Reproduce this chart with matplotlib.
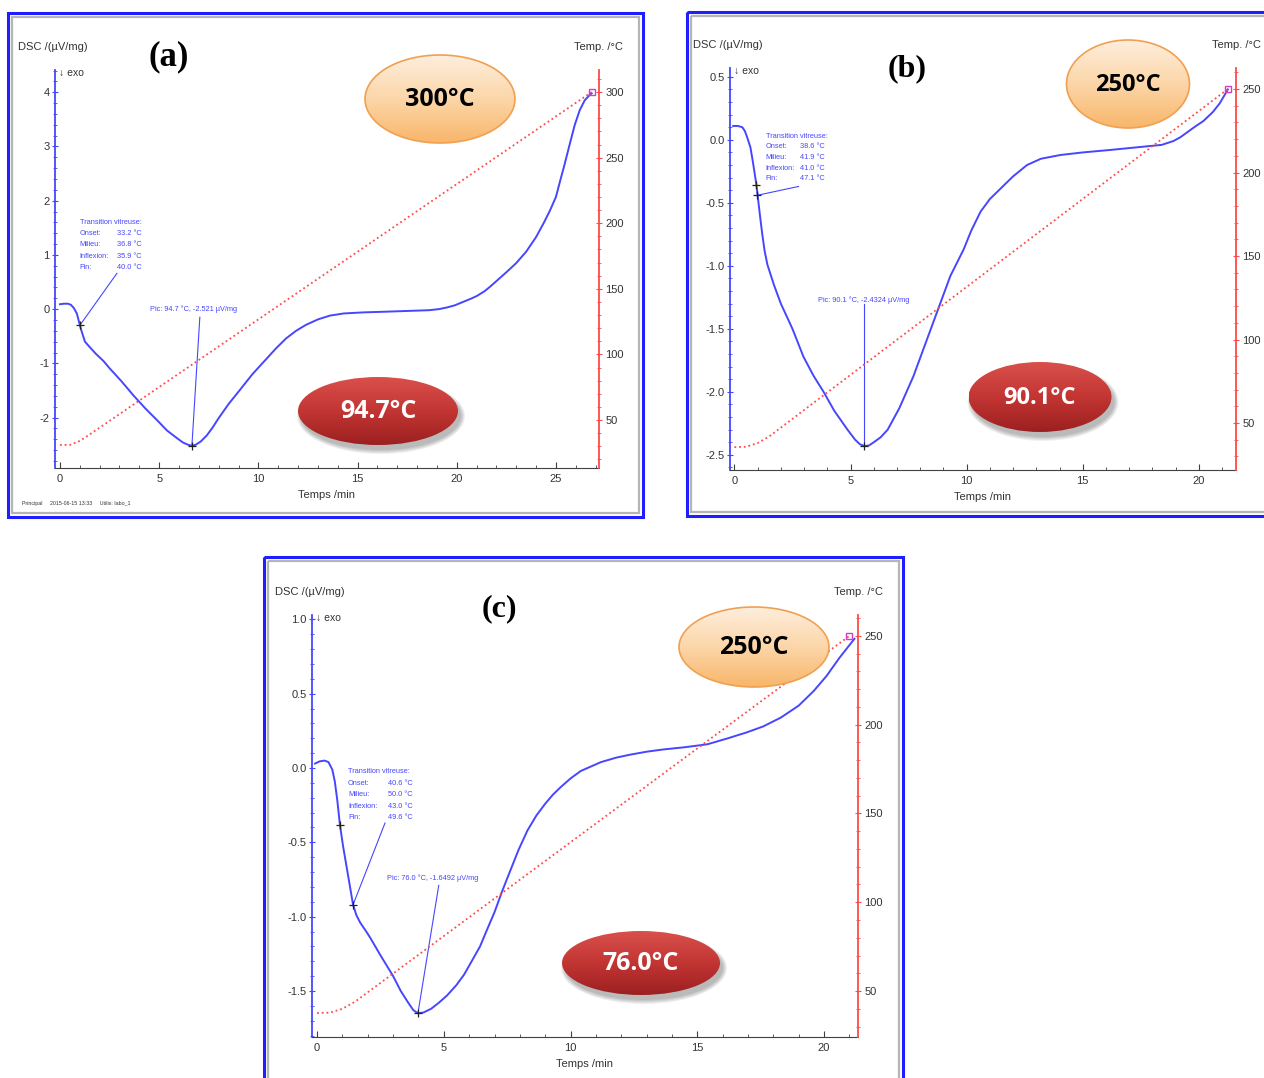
import numpy as np
import matplotlib.pyplot as plt
from matplotlib.patches import Ellipse, Rectangle
from matplotlib.ticker import MultipleLocator, FormatStrFormatter
from matplotlib.colors import to_rgb

plt.rcParams['font.family'] = ['Liberation Sans', 'DejaVu Sans']
plt.rcParams['axes.unicode_minus'] = False

W, H = 1264, 1078

# ---- values ----
# (a) heated up to 300 C
time_a = [0, 0.2, 0.4, 0.55, 0.7, 0.85, 1.0, 1.1, 1.26, 1.5, 1.8, 2.2, 2.5, 3.1, 3.7, 4.3,
          4.9, 5.4, 5.9, 6.2, 6.45, 6.65, 6.85, 7.1, 7.4, 7.7, 8.0, 8.5, 9.07, 9.7, 10.4,
          10.9, 11.4, 11.9, 12.4, 13.0, 13.6, 14.3, 15.3, 16.2, 17.0, 17.8, 18.6, 19.1,
          19.5, 19.9, 20.3, 20.7, 21.0, 21.4, 21.7, 22.1, 22.5, 23.0, 23.5, 24.0, 24.4,
          24.7, 25.0, 25.2, 25.4, 25.7, 25.95, 26.2, 26.45, 26.7, 26.8]
dsc_a = [0.09, 0.10, 0.10, 0.08, 0.02, -0.08, -0.29, -0.42, -0.60, -0.70, -0.82, -0.96,
         -1.09, -1.33, -1.59, -1.83, -2.05, -2.24, -2.38, -2.46, -2.50, -2.52, -2.50, -2.44,
         -2.33, -2.18, -2.01, -1.75, -1.49, -1.20, -0.92, -0.72, -0.54, -0.40, -0.29, -0.19,
         -0.12, -0.08, -0.06, -0.05, -0.04, -0.03, -0.02, 0.00, 0.03, 0.07, 0.13, 0.19,
         0.24, 0.33, 0.42, 0.55, 0.68, 0.85, 1.06, 1.33, 1.60, 1.82, 2.07, 2.35, 2.62,
         3.05, 3.40, 3.67, 3.85, 3.95, 3.98]
ttime_a = [0, 0.5, 1.0, 1.5, 26.8]
temp_a = [31, 31, 34, 39, 300]

# (b) heated up to 250 C
time_b = [-0.05, 0.15, 0.34, 0.45, 0.55, 0.69, 0.8, 0.95, 1.0, 1.1, 1.2, 1.3, 1.42, 1.7,
          2.0, 2.5, 2.97, 3.4, 3.84, 4.3, 4.87, 5.2, 5.4, 5.6, 5.8, 6.0, 6.3, 6.6, 7.1,
          7.7, 8.3, 8.88, 9.3, 9.87, 10.2, 10.6, 11.0, 11.5, 12.0, 12.6, 13.2, 14.05,
          15.0, 16.2, 17.3, 18.4, 18.9, 19.2, 19.5, 19.8, 20.2, 20.6, 20.9, 21.25]
dsc_b = [0.11, 0.11, 0.10, 0.07, 0.02, -0.06, -0.18, -0.36, -0.44, -0.60, -0.75, -0.88,
         -0.99, -1.15, -1.30, -1.50, -1.72, -1.87, -2.00, -2.15, -2.30, -2.38, -2.415,
         -2.43, -2.425, -2.40, -2.36, -2.30, -2.13, -1.88, -1.58, -1.29, -1.08, -0.87,
         -0.72, -0.57, -0.47, -0.38, -0.29, -0.20, -0.15, -0.12, -0.10, -0.08, -0.06,
         -0.04, -0.01, 0.02, 0.06, 0.10, 0.15, 0.22, 0.29, 0.40]
ttime_b = [0, 0.5, 1.0, 1.5, 21.25]
temp_b = [35.6, 35.8, 38, 42, 250]

# (c) heated up to 250 C
time_c = [-0.08, 0.1, 0.3, 0.45, 0.6, 0.7, 0.8, 0.9, 1.02, 1.15, 1.3, 1.42, 1.55, 1.7, 1.9,
          2.09, 2.5, 3.0, 3.3, 3.6, 3.8, 3.98, 4.2, 4.5, 4.8, 5.13, 5.5, 5.8, 6.1, 6.43,
          6.7, 7.0, 7.3, 7.6, 7.95, 8.3, 8.65, 9.0, 9.3, 9.6, 10.0, 10.4, 10.8, 11.2, 11.8,
          12.35, 13.0, 13.65, 14.5, 15.4, 16.2, 16.95, 17.6, 18.3, 19.0, 19.6, 20.1, 20.6,
          21.2]
dsc_c = [0.03, 0.045, 0.05, 0.04, -0.01, -0.09, -0.22, -0.38, -0.52, -0.65, -0.80, -0.92,
         -0.99, -1.04, -1.09, -1.14, -1.26, -1.40, -1.50, -1.58, -1.63, -1.65, -1.645,
         -1.62, -1.58, -1.53, -1.46, -1.39, -1.30, -1.20, -1.09, -0.97, -0.83, -0.70,
         -0.55, -0.42, -0.32, -0.24, -0.18, -0.13, -0.07, -0.02, 0.01, 0.04, 0.07, 0.09,
         0.11, 0.125, 0.14, 0.16, 0.20, 0.24, 0.28, 0.34, 0.42, 0.52, 0.62, 0.74, 0.87]
ttime_c = [0, 0.5, 1.0, 1.5, 21.0]
temp_c = [37.6, 37.8, 40, 44, 250]

tg_names = ['Onset:', 'Milieu:', 'Inflexion:', 'Fin:']
tg_a = ['33.2 °C', '36.8 °C', '35.9 °C', '40.0 °C']
tg_b = ['38.6 °C', '41.9 °C', '41.0 °C', '47.1 °C']
tg_c = ['40.6 °C', '50.0 °C', '43.0 °C', '49.6 °C']

peak_a = (6.65, -2.521)
peak_b = (5.6, -2.4324)
peak_c = (3.98, -1.6492)
pic_a = 'Pic: 94.7 °C, -2.521 µV/mg'
pic_b = 'Pic: 90.1 °C, -2.4324 µV/mg'
pic_c = 'Pic: 76.0 °C, -1.6492 µV/mg'

BLUE = '#4646ff'
RED = '#ff4a4a'
TXT = '#333333'

fig = plt.figure(figsize=(W / 100, H / 100), dpi=100)
fig.patch.set_facecolor('white')


def panel(box, xlim, ylim, tlim, ymaj, ymin, yfmt):
    l, t, r, b = box
    ax = fig.add_axes([l / W, 1 - b / H, (r - l) / W, (b - t) / H])
    ax.set_xlim(*xlim)
    ax.set_ylim(*ylim)
    for s in ['top', 'right']:
        ax.spines[s].set_visible(False)
    ax.spines['left'].set_color(BLUE)
    ax.spines['left'].set_linewidth(1.3)
    ax.spines['bottom'].set_color('#404040')
    ax.xaxis.set_major_locator(MultipleLocator(5))
    ax.xaxis.set_minor_locator(MultipleLocator(1))
    ax.yaxis.set_major_locator(MultipleLocator(ymaj))
    ax.yaxis.set_minor_locator(MultipleLocator(ymin))
    ax.yaxis.set_major_formatter(FormatStrFormatter(yfmt))
    ax.tick_params(axis='y', which='major', direction='inout', length=5, color=BLUE,
                   labelcolor=TXT, labelsize=8, pad=1.5)
    ax.tick_params(axis='y', which='minor', direction='inout', length=2.5, color=BLUE)
    ax.tick_params(axis='x', which='major', direction='in', length=4, color='#404040',
                   labelcolor=TXT, labelsize=8, pad=4.5)
    ax.tick_params(axis='x', which='minor', direction='in', length=2.5, color='#404040')

    tx = ax.twinx()
    tx.set_ylim(*tlim)
    for s in ['top', 'left', 'bottom']:
        tx.spines[s].set_visible(False)
    tx.spines['right'].set_color(RED)
    tx.spines['right'].set_linewidth(1.3)
    tx.yaxis.set_major_locator(MultipleLocator(50))
    tx.yaxis.set_minor_locator(MultipleLocator(10))
    tx.yaxis.set_major_formatter(FormatStrFormatter('%d'))
    tx.tick_params(axis='y', which='major', direction='inout', length=5, color=RED,
                   labelcolor=TXT, labelsize=8, pad=2)
    tx.tick_params(axis='y', which='minor', direction='inout', length=2.5, color=RED)

    ax.annotate('DSC /(µV/mg)', xy=(0, 1), xycoords='axes fraction', xytext=(-37, 23),
                textcoords='offset pixels', ha='left', va='center', fontsize=8, color=TXT)
    ax.annotate('↓ exo', xy=(0, 1), xycoords='axes fraction', xytext=(4, -3),
                textcoords='offset pixels', ha='left', va='center', fontsize=7.5, color=TXT)
    ax.annotate('Temp. /°C', xy=(1, 1), xycoords='axes fraction', xytext=(0, 23),
                textcoords='offset pixels', ha='center', va='center', fontsize=8, color=TXT)
    ax.annotate('Temps /min', xy=(0.5, 0), xycoords='axes fraction', xytext=(0, -27),
                textcoords='offset pixels', ha='center', va='center', fontsize=8, color=TXT)
    return ax, tx


def draw(ax, tx, t, d, tt, temp, tg_pos, tg_vals, tg_gap, tg_step, tg_line, tg_marks,
         pic_pos, pic_txt, pic_line, peak):
    ax.plot(t, d, color=BLUE, lw=1.4, zorder=3, solid_joinstyle='round')
    tx.plot(tt, temp, color=RED, lw=1.3, ls=(0, (1, 1.6)), zorder=2)
    tx.plot(tt[-1], temp[-1], marker='s', ms=5, mfc='none', mec='#d040c0', mew=1)
    # glass transition annotation block, one text per row
    ax.annotate('Transition vitreuse:', xy=tg_pos, xytext=(0, 0), textcoords='offset pixels',
                ha='left', va='center', fontsize=5.3, color=BLUE)
    for i, (name, val) in enumerate(zip(tg_names, tg_vals)):
        dy = -(i + 1) * tg_step
        ax.annotate(name, xy=tg_pos, xytext=(0, dy), textcoords='offset pixels',
                    ha='left', va='center', fontsize=5.3, color=BLUE)
        ax.annotate(val, xy=tg_pos, xytext=(tg_gap, dy), textcoords='offset pixels',
                    ha='left', va='center', fontsize=5.3, color=BLUE)
    ax.plot(tg_line[0], tg_line[1], color=BLUE, lw=0.8)
    ax.plot(tg_marks[0], tg_marks[1], '+', color='#222', ms=6, mew=0.9, zorder=4)
    # peak annotation
    ax.text(pic_pos[0], pic_pos[1], pic_txt, ha='left', va='center', fontsize=5.3, color=BLUE)
    ax.plot(pic_line[0], pic_line[1], color=BLUE, lw=0.8)
    ax.plot(peak[0], peak[1], '+', color='#222', ms=6, mew=0.9, zorder=4)


ax_a, tx_a = panel((55, 70, 599, 468), (-0.25, 27.17), (-2.93, 4.41), (13.4, 316.8), 1, 0.2, '%d')
draw(ax_a, tx_a, time_a, dsc_a, ttime_a, temp_a, (1.0, 1.6), tg_a, 37, 11.3,
     ([2.87, 1.0], [0.66, -0.3]), ([1.0], [-0.3]),
     (4.54, 0.0), pic_a, ([7.05, peak_a[0]], [-0.15, peak_a[1]]), peak_a)

ax_b, tx_b = panel((730, 68, 1236, 470), (-0.19, 21.6), (-2.62, 0.57), (21.9, 262.6), 0.5, 0.1, '%.1f')
draw(ax_b, tx_b, time_b, dsc_b, ttime_b, temp_b, (1.34, 0.03), tg_b, 34, 10.7,
     ([2.76, 0.99], [-0.37, -0.44]), ([0.95, 0.99], [-0.36, -0.44]),
     (3.58, -1.27), pic_b, ([5.6, peak_b[0]], [-1.3, peak_b[1]]), peak_b)

ax_c, tx_c = panel((312, 615, 858, 1037), (-0.2, 21.34), (-1.81, 1.03), (24.1, 261.8), 0.5, 0.1, '%.1f')
draw(ax_c, tx_c, time_c, dsc_c, ttime_c, temp_c, (1.22, -0.025), tg_c, 40, 11.5,
     ([2.68, 1.42], [-0.37, -0.92]), ([0.9, 1.42], [-0.38, -0.92]),
     (2.76, -0.74), pic_c, ([4.8, peak_c[0]], [-0.79, peak_c[1]]), peak_c)

# ---- overlay in pixel coordinates: frames, panel letters, badges ----
ov = fig.add_axes([0, 0, 1, 1], zorder=10)
ov.set_facecolor('none')
ov.axis('off')


def frame(l, t, r, b):
    ov.add_patch(Rectangle((l + 4, t + 4), r - l - 8, b - t - 8, fill=False, ec='#b5b5b5', lw=1.6))
    ov.add_patch(Rectangle((l, t), r - l, b - t, fill=False, ec='#1e1eff', lw=2.2))


frame(8, 13, 643, 517)
frame(687, 12, 1275, 516)
frame(264, 557, 903, 1090)


def badge(cx, cy, w, h, stops, text, tcolor, edge=None, shadow=False, fs=18):
    if shadow:
        for k in range(5):
            ov.add_patch(Ellipse((cx + 3, cy + 5), w + 2 * k, h + 2 * k, fc='black',
                                 ec='none', alpha=0.06, zorder=1))
    e = Ellipse((cx, cy), w, h, fc='none', ec=edge if edge else 'none', lw=1.2, zorder=3)
    ov.add_patch(e)
    g = np.linspace(0, 1, 120)
    pos = np.linspace(0, 1, len(stops))
    cols = np.array([to_rgb(c) for c in stops])
    img = np.stack([np.interp(g, pos, cols[:, i]) for i in range(3)], axis=-1)[:, None, :]
    im = ov.imshow(img, extent=[cx - w / 2, cx + w / 2, cy + h / 2, cy - h / 2],
                   aspect='auto', zorder=2, interpolation='bilinear')
    im.set_clip_path(e)
    ov.text(cx, cy + 1, text, ha='center', va='center', fontsize=fs, fontweight='bold',
            family=['Open Sans', 'DejaVu Sans'], color=tcolor, zorder=4)


orange = ['#feeedd', '#fcd6a8', '#f8b66a']
red = ['#d9504b', '#c23533', '#9c2020']
badge(440, 99, 150, 88, orange, '300°C', 'black', edge='#f0a050')
badge(378, 411, 160, 68, red, '94.7°C', 'white', shadow=True)
badge(1128, 84, 123, 88, orange, '250°C', 'black', edge='#f0a050', fs=17)
badge(1040, 397, 143, 70, red, '90.1°C', 'white', shadow=True, fs=17)
badge(754, 647, 150, 80, orange, '250°C', 'black', edge='#f0a050')
badge(641, 963, 158, 64, red, '76.0°C', 'white', shadow=True)

ov.text(169, 57, '(a)', ha='center', va='center', fontsize=25, fontweight='bold',
        family='Liberation Serif')
ov.text(907, 69, '(b)', ha='center', va='center', fontsize=23, fontweight='bold',
        family='Liberation Serif')
ov.text(499, 609, '(c)', ha='center', va='center', fontsize=23, fontweight='bold',
        family='Liberation Serif')
ov.text(22, 503, 'Principal     2015-06-15 13:33     Utilis: labo_1', ha='left', va='center',
        fontsize=3.8, color=TXT)

ov.set_xlim(0, W)
ov.set_ylim(H, 0)

fig.savefig('out.png', dpi=100)
